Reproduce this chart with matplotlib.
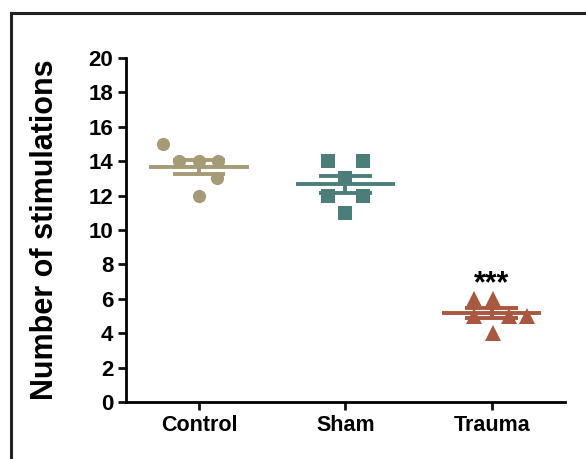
import numpy as np
import matplotlib
matplotlib.use("Agg")
import matplotlib.pyplot as plt
from matplotlib.lines import Line2D

plt.rcParams['font.family'] = ['Liberation Sans', 'DejaVu Sans']
plt.rcParams['font.weight'] = 'bold'

# data
groups = ['Control', 'Sham', 'Trauma']
control = [15, 14, 14, 14, 13, 12]
sham = [14, 14, 13, 12, 12, 11]
trauma = [6, 6, 5, 5, 5, 4]
# horizontal scatter of the points inside each column
control_jit = [-0.25, -0.14, 0.0, 0.13, 0.12, 0.0]
sham_jit = [-0.12, 0.12, 0.0, -0.12, 0.12, 0.0]
trauma_jit = [-0.12, 0.01, -0.12, 0.12, 0.24, 0.01]

colors = ['#a69b77', '#4b7e78', '#a9573f']
markers = ['o', 's', '^']
values = [control, sham, trauma]
jitters = [control_jit, sham_jit, trauma_jit]

fig = plt.figure(figsize=(5.86, 4.59), dpi=100)
ax = fig.add_axes([0.215, 0.124, 0.749, 0.75])

for i, (v, j, c, m) in enumerate(zip(values, jitters, colors, markers)):
    v = np.array(v, dtype=float)
    ax.plot(i + np.array(j), v, linestyle='none', marker=m, color=c,
            markersize=9.5 if m != '^' else 11, markeredgewidth=0, zorder=2)
    mean = v.mean()
    sem = v.std(ddof=1) / np.sqrt(len(v))
    ax.hlines(mean, i - 0.34, i + 0.34, color=c, lw=2.8, zorder=3)
    ax.hlines([mean - sem, mean + sem], i - 0.18, i + 0.18, color=c, lw=2.8, zorder=3)
    ax.vlines(i, mean - sem, mean + sem, color=c, lw=2.8, zorder=3)

ax.text(2, 6.0, '***', ha='center', va='bottom', fontsize=22, fontweight='bold')

ax.set_xlim(-0.5, 2.5)
ax.set_ylim(0, 20)
ax.set_yticks(np.arange(0, 21, 2))
ax.set_xticks(range(3))
ax.set_xticklabels(groups)
ax.tick_params(axis='both', width=2, length=6, pad=3, color='#111111')
ax.tick_params(axis='y', labelsize=16)
ax.tick_params(axis='x', labelsize=15.5)
for lab in ax.get_xticklabels() + ax.get_yticklabels():
    lab.set_fontweight('bold')
ax.spines['top'].set_visible(False)
ax.spines['right'].set_visible(False)
ax.spines['left'].set_linewidth(2)
ax.spines['bottom'].set_linewidth(2)

ax.set_ylabel('Number of stimulations', fontsize=22, fontweight='bold')
ax.yaxis.set_label_coords(-0.15, 0.5)

# outer frame of the panel
fig.add_artist(Line2D([11 / 586, 11 / 586], [0, 1 - 13 / 459], color='#222222', lw=2.2,
                      transform=fig.transFigure))
fig.add_artist(Line2D([11 / 586, 1.0], [1 - 13 / 459, 1 - 13 / 459], color='#222222', lw=2.2,
                      transform=fig.transFigure))

fig.savefig('out.png', dpi=100)
